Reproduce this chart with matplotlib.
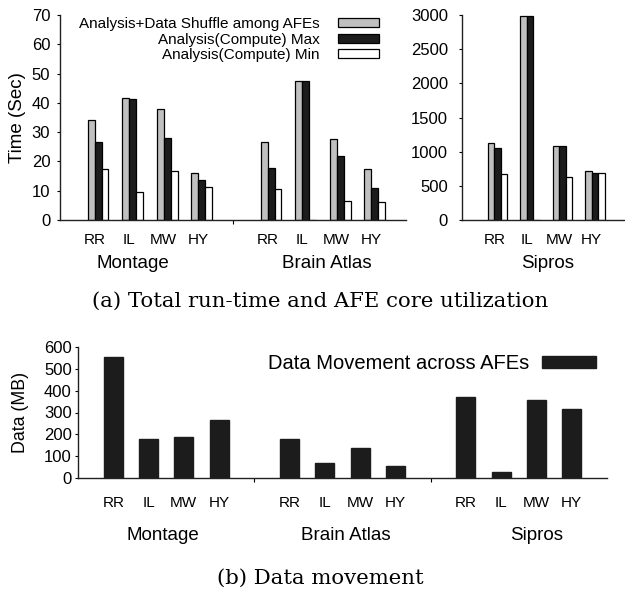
import matplotlib
matplotlib.use("Agg")
import matplotlib.pyplot as plt
import numpy as np

plt.rcParams['font.family'] = ['Liberation Sans', 'DejaVu Sans']

policies = ["RR", "IL", "MW", "HY"]
apps = ["Montage", "Brain Atlas", "Sipros"]
series = ["Analysis+Data Shuffle among AFEs", "Analysis(Compute) Max", "Analysis(Compute) Min"]

# time (sec), per app: [total, max, min] for RR, IL, MW, HY
montage_total = [34, 41.6, 37.8, 16]
montage_max = [26.8, 41.3, 28, 13.5]
montage_min = [17.5, 9.7, 16.8, 11.3]
brain_total = [26.5, 47.6, 27.8, 17.3]
brain_max = [17.6, 47.5, 21.8, 10.9]
brain_min = [10.7, 0, 6.4, 6.3]
sipros_total = [1120, 2990, 1090, 710]
sipros_max = [1060, 2990, 1090, 695]
sipros_min = [680, 0, 630, 690]

# data movement (MB)
move_montage = [556, 180, 190, 265]
move_brain = [180, 70, 137, 54]
move_sipros = [370, 26, 357, 315]

colors = ["#c0c0c0", "#1c1c1c", "white"]
W, H = 625, 592

fig = plt.figure(figsize=(W / 100, H / 100), dpi=100)


def px_axes(x0, y0, x1, y1):
    return fig.add_axes([x0 / W, 1 - y1 / H, (x1 - x0) / W, (y1 - y0) / H])


def style(ax, ypad, xpad):
    for s in ["top", "right"]:
        ax.spines[s].set_visible(False)
    for s in ["left", "bottom"]:
        ax.spines[s].set_linewidth(1.0)
        ax.spines[s].set_color("#222222")
    ax.tick_params(axis="y", length=2, width=0.8, labelsize=12, pad=ypad)
    ax.tick_params(axis="x", length=0, labelsize=11, pad=xpad)


def group_label(ax, xdata, ypx, text):
    # x in data units, y in figure pixels
    tr = ax.get_xaxis_transform()
    y_ax = ax.transAxes.inverted().transform(fig.transFigure.transform((0, 1 - ypx / H)))[1]
    ax.text(xdata, y_ax, text, transform=tr, ha="center", va="center", fontsize=13.5)


# (a) top left: Montage + Brain Atlas
ax1 = px_axes(60, 15, 406, 220)
x = np.arange(1, 5)
offs = [-0.1, 0.1, 0.3]
groups = [(montage_total, montage_max, montage_min, 0), (brain_total, brain_max, brain_min, 5)]
for tot, mx, mn, base in groups:
    for vals, c, o, lab in zip([tot, mx, mn], colors, offs, series):
        ax1.bar(x + base + o, vals, width=0.2, color=c, edgecolor="black", linewidth=0.9,
                label=lab if base == 0 else None)
ax1.set_xlim(0, 10)
ax1.set_ylim(0, 70)
ax1.set_yticks(range(0, 71, 10))
ax1.set_xticks(list(x) + list(x + 5))
ax1.set_xticklabels(policies * 2)
ax1.set_xticks([5], minor=True)
style(ax1, 5, 9)
ax1.tick_params(axis="x", which="minor", length=3, width=0.8)
ax1.set_ylabel("Time (Sec)", fontsize=13.5)
ax1.yaxis.set_label_coords((26 - 60) / 346, 0.5)
group_label(ax1, 2.1, 264, apps[0])
group_label(ax1, 7.7, 264, apps[1])
ax1.legend(loc="upper right", bbox_to_anchor=(379 / W, 1 - 17 / H), bbox_transform=fig.transFigure,
           frameon=False, markerfirst=False, fontsize=11, handlelength=2.7, handleheight=0.55,
           labelspacing=0.1, handletextpad=1.2, borderpad=0, borderaxespad=0)

# (a) top right: Sipros
ax2 = px_axes(462, 15, 624, 220)
for vals, c, o in zip([sipros_total, sipros_max, sipros_min], colors, offs):
    ax2.bar(x + o, vals, width=0.2, color=c, edgecolor="black", linewidth=0.9)
ax2.set_xlim(0, 5)
ax2.set_ylim(0, 3000)
ax2.set_yticks(range(0, 3001, 500))
ax2.set_xticks(x)
ax2.set_xticklabels(policies)
style(ax2, 8, 9)
group_label(ax2, 2.65, 264, apps[2])

fig.text(320 / W, 1 - 301 / H, "(a) Total run-time and AFE core utilization", ha="center", va="center",
         fontsize=15.3, family="DejaVu Serif")

# (b) data movement
ax3 = px_axes(78, 347, 607, 478)
xb = np.concatenate([x, x + 5, x + 10])
ax3.bar(xb, move_montage + move_brain + move_sipros, width=0.54, color="#1c1c1c",
        edgecolor="#1c1c1c", label="Data Movement across AFEs")
ax3.set_xlim(0, 15)
ax3.set_ylim(0, 600)
ax3.set_yticks(range(0, 601, 100))
ax3.set_xticks(xb)
ax3.set_xticklabels(policies * 3)
ax3.set_xticks([5, 10], minor=True)
style(ax3, 2.5, 13)
ax3.tick_params(axis="x", which="minor", length=3, width=0.8)
ax3.set_ylabel("Data (MB)", fontsize=12.8)
ax3.yaxis.set_label_coords((29 - 78) / 529, 0.5)
for xd, a in zip([2.4, 7.6, 13.0], apps):
    group_label(ax3, xd, 536, a)
ax3.legend(loc="upper right", bbox_to_anchor=(596 / W, 1 - 354 / H), bbox_transform=fig.transFigure,
           frameon=False, markerfirst=False, fontsize=14.5, handlelength=2.7, handleheight=0.5,
           handletextpad=0.6, borderpad=0, borderaxespad=0)

fig.text(320 / W, 1 - 578 / H, "(b) Data movement", ha="center", va="center",
         fontsize=15.3, family="DejaVu Serif")

fig.savefig("out.png", dpi=100)
